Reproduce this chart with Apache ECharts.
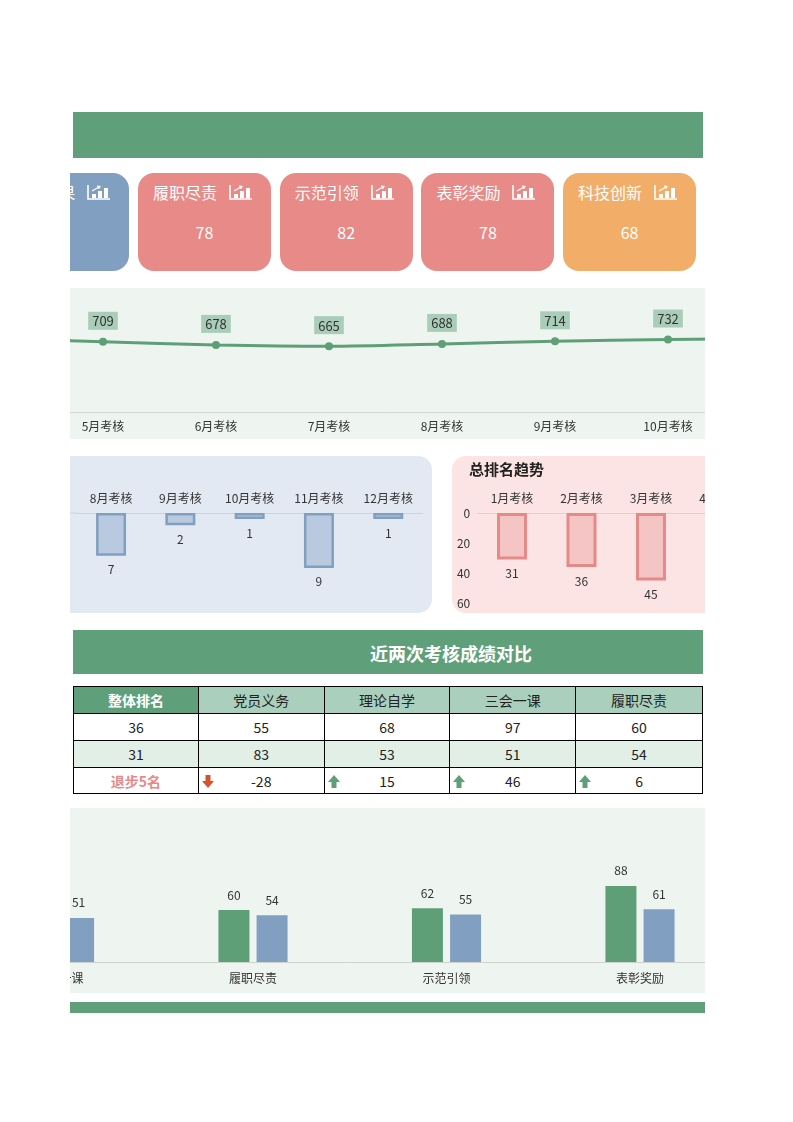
<!DOCTYPE html>
<html>
<head>
<meta charset="utf-8">
<script src="https://cdn.jsdelivr.net/npm/echarts@6/dist/echarts.min.js"></script>
<style>
  body { margin: 0; background: #fff; font-family: "Noto Sans CJK SC", "Noto Sans", sans-serif; }
  #page { position: relative; width: 793px; height: 1122px; overflow: hidden; }
  #clip { position: absolute; left: 70px; top: 0; width: 635px; height: 1122px; overflow: hidden; }
  #inner { position: absolute; left: -70px; top: 0; width: 1000px; height: 1122px; }
  .abs { position: absolute; }
  .band { background: #5fa07a; }
  .card { position: absolute; top: 173px; width: 133px; height: 98px; border-radius: 16px; color: #fff; }
  .card .t { position: absolute; left: 15px; top: 8px; font-size: 16px; line-height: 22px; white-space: nowrap; }
  .card .ic { position: absolute; left: 91px; top: 8px; }
  .card .v { position: absolute; left: 0; width: 133px; top: 48px; text-align: center; font-size: 16px; line-height: 22px; }
  table { border-collapse: collapse; font-size: 14px; color: #222; }
  td { border: 1px solid #000; text-align: center; padding: 0; position: relative; }
  .arr { position: absolute; left: 3px; top: 7px; }
</style>
</head>
<body>
<div id="page">
  <div id="clip"><div id="inner">
    <div class="abs band" style="left:73px;top:112px;width:630px;height:46px;"></div>
    <div id="cards"></div>

    <div class="abs" style="left:70px;top:288px;width:635px;height:151px;background:#eef5f0;"></div>
    <div id="trend" class="abs" style="left:-80px;top:288px;width:1000px;height:151px;"></div>

    <div class="abs" style="left:40px;top:456px;width:392px;height:157px;background:#e3e9f2;border-radius:14px;"></div>
    <div id="change" class="abs" style="left:60px;top:456px;width:372px;height:157px;"></div>

    <div class="abs" style="left:452px;top:456px;width:320px;height:157px;background:#fbe4e3;border-radius:14px;"></div>
    <div id="rank" class="abs" style="left:440px;top:456px;width:330px;height:157px;"></div>

    <div class="abs band" style="left:73px;top:630px;width:630px;height:44px;"></div>
    <div class="abs" style="left:300px;top:641px;width:302px;text-align:center;color:#fff;font-size:18px;font-weight:bold;line-height:24px;">近两次考核成绩对比</div>

    <table id="tbl" class="abs" style="left:73px;top:686px;width:630px;"></table>

    <div class="abs" style="left:70px;top:808px;width:635px;height:185px;background:#eef5f0;"></div>
    <div id="compare" class="abs" style="left:-60px;top:808px;width:860px;height:185px;"></div>

    <div class="abs band" style="left:70px;top:1002px;width:635px;height:11px;"></div>
  </div></div>
</div>
<script>
// cards
var cardTitles = ['工作成果', '履职尽责', '示范引领', '表彰奖励', '科技创新', '创先争优'];
var cardValues = [null, 78, 82, 78, 68, null];
var cardColors = ['#819fc0', '#e88a87', '#e88a87', '#e88a87', '#f2ae68', '#ebb77c'];

// total score per month
var trendMonths = ['4月考核', '5月考核', '6月考核', '7月考核', '8月考核', '9月考核', '10月考核', '11月考核'];
var trendScores = [745, 709, 678, 665, 688, 714, 732, 740];

// rank change
var changeMonths = ['8月考核', '9月考核', '10月考核', '11月考核', '12月考核'];
var changeValues = [7, 2, 1, 9, 1];

// overall rank
var rankMonths = ['1月考核', '2月考核', '3月考核', '4月考核'];
var rankValues = [31, 36, 45, null];
var rankTicks = [0, 20, 40, 60];

// table
var tableHead = ['整体排名', '党员义务', '理论自学', '三会一课', '履职尽责'];
var latestRow = [36, 55, 68, 97, 60];
var prevRow = [31, 83, 53, 51, 54];

// comparison bars
var compareCats = ['三会一课', '履职尽责', '示范引领', '表彰奖励'];
var compareLatest = [97, 60, 62, 88];
var comparePrev = [51, 54, 55, 61];

var iconSvg = '<svg width="24" height="15" viewBox="0 0 24 15">' +
  '<path d="M1 0V14H23" stroke="#fff" stroke-width="1.6" fill="none"/>' +
  '<rect x="5" y="9" width="4" height="4" fill="#fff"/>' +
  '<rect x="11" y="6" width="4" height="7" fill="#fff"/>' +
  '<rect x="17" y="3" width="4" height="10" fill="#fff"/>' +
  '<path d="M5 6L12 2" stroke="#fff" stroke-width="1.2" fill="none"/>' +
  '<path d="M10 1.2L13 1.5L11.6 4" stroke="#fff" stroke-width="1.2" fill="none"/></svg>';

var cardsHtml = '';
for (var i = 0; i < cardTitles.length; i++) {
  var left = -3.7 + i * 141.7;
  cardsHtml += '<div class="card" style="left:' + left + 'px;background:' + cardColors[i] + ';">' +
    '<div class="t">' + cardTitles[i] + '</div><div class="ic">' + iconSvg + '</div>' +
    (cardValues[i] == null ? '' : '<div class="v">' + cardValues[i] + '</div>') + '</div>';
}
document.getElementById('cards').innerHTML = cardsHtml;

// table
var upSvg = '<svg class="arr" width="12" height="13" viewBox="0 0 12 13"><path d="M3.5 13H8.5V7H12L6 0L0 7H3.5Z" fill="#5f9f78"/></svg>';
var downSvg = '<svg class="arr" width="12" height="13" viewBox="0 0 12 13"><path d="M3.5 0H8.5V6H12L6 13L0 6H3.5Z" fill="#d4532d"/></svg>';
var colW = [125, 126, 126, 126, 127];
var h = '<tr style="height:27px;">';
tableHead.forEach(function (t, j) {
  h += j === 0
    ? '<td style="width:' + colW[j] + 'px;background:#5fa07a;color:#fff;font-weight:bold;">' + t + '</td>'
    : '<td style="width:' + colW[j] + 'px;background:#aad0bd;">' + t + '</td>';
});
h += '</tr><tr style="height:27px;">';
latestRow.forEach(function (v) { h += '<td>' + v + '</td>'; });
h += '</tr><tr style="height:27px;background:#e2efe7;">';
prevRow.forEach(function (v) { h += '<td>' + v + '</td>'; });
h += '</tr><tr style="height:26px;">';
latestRow.forEach(function (v, j) {
  var d = v - prevRow[j];
  if (j === 0) {
    h += '<td style="color:#e58a88;font-weight:bold;">' + (d > 0 ? '退步' + d + '名' : '进步' + (-d) + '名') + '</td>';
  } else {
    h += '<td>' + (d < 0 ? downSvg : upSvg) + d + '</td>';
  }
});
h += '</tr>';
document.getElementById('tbl').innerHTML = h;

var txt = '#333';
var font = '"Noto Sans CJK SC", sans-serif';

// trend line
var trendChart = echarts.init(document.getElementById('trend'));
trendChart.setOption({
  animation: false,
  grid: { left: 13.5, top: 25, width: 904, height: 99, outerBoundsMode: 'none' },
  xAxis: {
    type: 'category', data: trendMonths,
    axisLine: { lineStyle: { color: '#d4d8d5' } }, axisTick: { show: false },
    axisLabel: { color: txt, fontSize: 12, margin: 8, fontFamily: font }
  },
  yAxis: { type: 'value', min: 0, max: 1000, show: false, splitLine: { show: false } },
  series: [{
    type: 'line', data: trendScores, smooth: 0.3,
    symbol: 'circle', symbolSize: 8,
    lineStyle: { color: '#5f9f78', width: 3 },
    itemStyle: { color: '#5f9f78' },
    label: {
      show: true, position: 'top', distance: 8, color: txt, fontSize: 13, fontFamily: font,
      backgroundColor: '#a9cdb8', padding: [3, 4, 2, 4]
    }
  }]
});

// rank change bars
var changeChart = echarts.init(document.getElementById('change'));
changeChart.setOption({
  animation: false,
  graphic: [{ type: 'line', shape: { x1: 0, y1: 57, x2: 17, y2: 57 }, style: { stroke: '#cfd3d9', lineWidth: 1 } }],
  grid: { left: 16.4, top: 57, width: 346.5, height: 91.5, outerBoundsMode: 'none' },
  xAxis: {
    type: 'category', data: changeMonths, position: 'top',
    axisLine: { lineStyle: { color: '#cfd3d9' } }, axisTick: { show: false },
    axisLabel: { color: txt, fontSize: 12, margin: 9, fontFamily: font }
  },
  yAxis: { type: 'value', inverse: true, min: 0, max: 15, show: false, splitLine: { show: false } },
  series: [{
    type: 'bar', data: changeValues, barWidth: 30,
    itemStyle: { color: '#b9cae0', borderColor: '#819fc0', borderWidth: 2.5 },
    label: { show: true, position: 'bottom', distance: 8, color: txt, fontSize: 12, fontFamily: font }
  }]
});

// overall rank bars
var rankChart = echarts.init(document.getElementById('rank'));
rankChart.setOption({
  animation: false,
  title: { text: '总排名趋势', left: 29, top: 6, padding: 0, textStyle: { fontSize: 15, fontWeight: 'bold', color: '#222', fontFamily: font } },
  grid: { left: 37.25, top: 57, width: 278, height: 90, outerBoundsMode: 'none' },
  xAxis: {
    type: 'category', data: rankMonths, position: 'top',
    axisLine: { lineStyle: { color: '#e2cfcf' } }, axisTick: { show: false },
    axisLabel: { color: txt, fontSize: 12, margin: 9, fontFamily: font }
  },
  yAxis: {
    type: 'value', inverse: true, min: rankTicks[0], max: rankTicks[rankTicks.length - 1], interval: 20,
    axisLine: { show: false }, axisTick: { show: false }, splitLine: { show: false },
    axisLabel: { color: txt, fontSize: 12, margin: 7, fontFamily: font }
  },
  series: [{
    type: 'bar', data: rankValues, barWidth: 30,
    itemStyle: { color: '#f4c5c4', borderColor: '#e58a88', borderWidth: 3 },
    label: { show: true, position: 'bottom', distance: 8, color: txt, fontSize: 12, fontFamily: font }
  }]
});

// comparison bars
var compareChart = echarts.init(document.getElementById('compare'));
compareChart.setOption({
  animation: false,
  grid: { left: 22.75, top: 67.5, width: 774, height: 86.5, outerBoundsMode: 'none' },
  xAxis: {
    type: 'category', data: compareCats,
    axisLine: { lineStyle: { color: '#cdd2ce' } }, axisTick: { show: false },
    axisLabel: { color: txt, fontSize: 12, margin: 10, fontFamily: font }
  },
  yAxis: { type: 'value', min: 0, max: 100, show: false, splitLine: { show: false } },
  series: [{
    type: 'bar', data: compareLatest, barWidth: 31, barGap: '23%',
    itemStyle: { color: '#5f9f78' },
    label: { show: true, position: 'top', distance: 9, color: txt, fontSize: 12, fontFamily: font }
  }, {
    type: 'bar', data: comparePrev, barWidth: 31, barGap: '23%',
    itemStyle: { color: '#819fc0' },
    label: { show: true, position: 'top', distance: 9, color: txt, fontSize: 12, fontFamily: font }
  }]
});
</script>
</body>
</html>
